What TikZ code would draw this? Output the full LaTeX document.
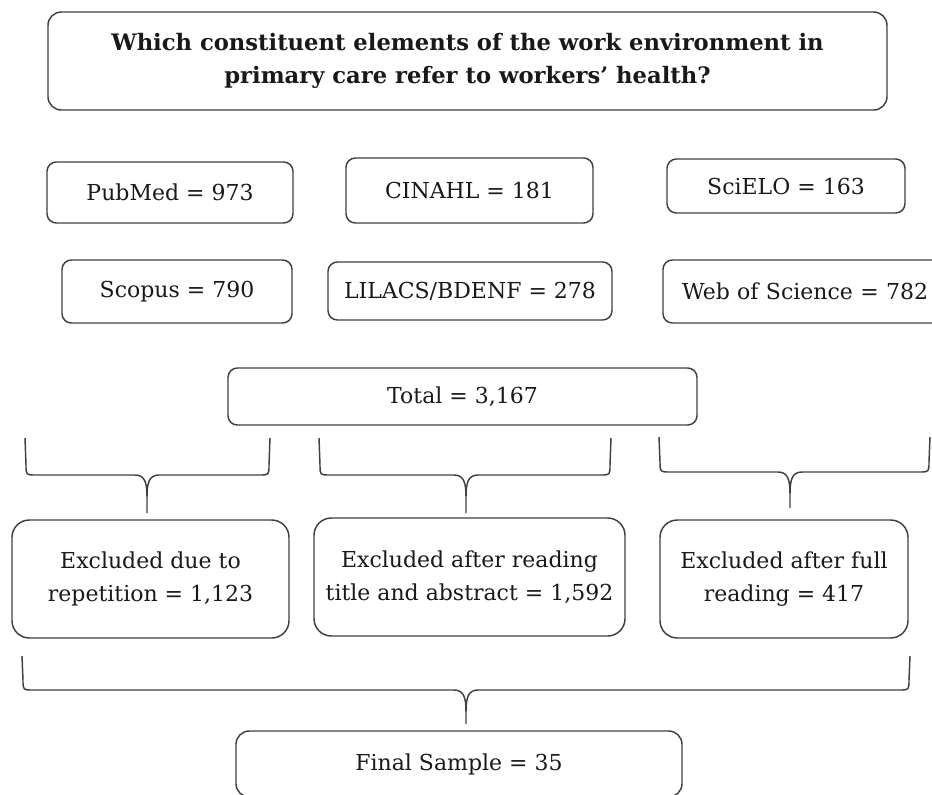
\documentclass[tikz,border=0pt]{standalone}
\usepackage{fontspec}
\setmainfont{DejaVu Serif}
\usepackage{tikz}
\usetikzlibrary{arrows,positioning,calc}
% left, right, tip, top, middle, bottom
\newcommand{\grp}[6]{%
  \draw[grpline] (#1,#4) -- (#1+1,#5-10) .. controls (#1+1,#5) .. (#1+11,#5) -- (#3-12,#5)
    .. controls (#3-2,#5) and (#3,#5+8) .. (#3,#5+22) -- (#3,#6)
    (#3,#5+22) .. controls (#3,#5+8) and (#3+2,#5) .. (#3+12,#5) -- (#2-11,#5)
    .. controls (#2-1,#5) .. (#2-1,#5-10) -- (#2,#4);}

\begin{document}
\begin{tikzpicture}[x=0.75pt,y=-0.75pt,
    box/.style={draw=black!75,line width=1.1pt,rounded corners=7pt,inner sep=0pt,
      text=black!90,font=\fontsize{16.5}{25}\selectfont,align=center},
    grpline/.style={black!75,line width=1.1pt}]
  \useasboundingbox (0,0) rectangle (932,794);
  \clip (0,0) rectangle (932,794);

  \node[box,rounded corners=10pt,minimum width=629.25pt,minimum height=73.5pt,
    font=\fontsize{17}{25}\selectfont\bfseries] (q) at (467.5,61)
    {Which constituent elements of the work environment in\\ primary care refer to workers’ health?};

  \node[box,minimum width=184.5pt,minimum height=45.75pt] (db1) at (170,192.5) {PubMed = 973};
  \node[box,minimum width=185.25pt,minimum height=48.75pt] (db2) at (469.5,190.5) {CINAHL = 181};
  \node[box,minimum width=178.5pt,minimum height=40.5pt] (db3) at (786,186) {SciELO = 163};
  \node[box,minimum width=172.5pt,minimum height=47.25pt] (db4) at (177,291.5) {Scopus = 790};
  \node[box,minimum width=213pt,minimum height=43.5pt] (db5) at (470,291) {LILACS/BDENF = 278};
  \node[box,minimum width=222.75pt,minimum height=47.25pt,inner xsep=14.25pt,
    text width=194.25pt,align=left] (db6) at (811.5,291.5) {Web of Science = 782};

  \node[box,minimum width=351.75pt,minimum height=42.75pt] (tot) at (462.5,396.5) {Total = 3,167};

  % brackets under the total
  \grp{25}{270}{147}{438}{475}{513}
  \grp{319}{611}{466}{438}{475}{513}
  \grp{659}{930}{790}{437}{472}{508}

  \node[box,rounded corners=13pt,minimum width=207.75pt,minimum height=88.5pt] (ex1) at (150.5,579)
    {Excluded due to\\ repetition = 1,123};
  \node[box,rounded corners=13pt,minimum width=233.25pt,minimum height=88.5pt] (ex2) at (469.5,577)
    {Excluded after reading\\ title and abstract = 1,592};
  \node[box,rounded corners=13pt,minimum width=186pt,minimum height=88.5pt] (ex3) at (784,579)
    {Excluded after full\\ reading = 417};

  \grp{22}{910}{466}{656}{690}{724}

  \node[box,rounded corners=10pt,minimum width=334.5pt,minimum height=49.5pt] (fin) at (459,764)
    {Final Sample = 35};
%   \path (tot) edge (fin);
\end{tikzpicture}
\end{document}
